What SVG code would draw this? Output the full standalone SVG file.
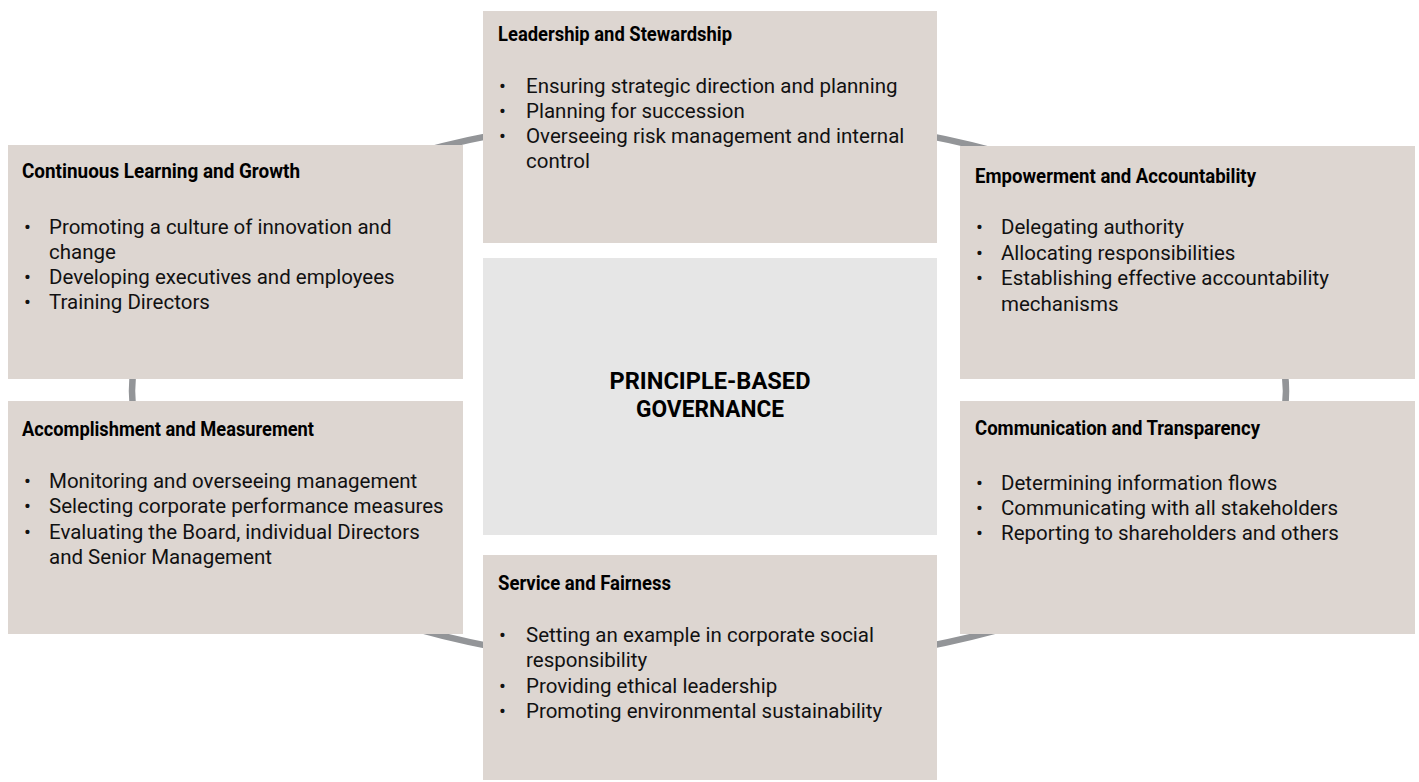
<svg xmlns="http://www.w3.org/2000/svg" width="1419" height="782" viewBox="0 0 1419 782">
<style>
.box{fill:#ddd6d1}
.core{fill:#e6e6e6}
.ring{fill:none;stroke:#939598;stroke-width:6.5}
.h{font-family:"Liberation Sans Narrow","Roboto","Liberation Sans",sans-serif;font-weight:bold;font-size:20.5px;fill:#000}
.t{font-family:"Roboto","Liberation Sans",sans-serif;font-size:20.5px;fill:#111}
.c{font-family:"Liberation Sans Narrow","Roboto","Liberation Sans",sans-serif;font-weight:bold;font-size:23px;fill:#000;text-anchor:middle}
</style>
<rect width="1419" height="782" fill="#fff"/>
<g id="connectors">
<ellipse class="ring" cx="709" cy="391" rx="577" ry="276"/>
</g>
<g id="leadership">
<rect class="box" x="483" y="11" width="454" height="232"/>
<text class="h" x="498" y="41" textLength="234" lengthAdjust="spacingAndGlyphs">Leadership and Stewardship</text>
<text class="t" x="499" y="93">•</text><text class="t" x="526" y="93">Ensuring strategic direction and planning</text>
<text class="t" x="499" y="118">•</text><text class="t" x="526" y="118">Planning for succession</text>
<text class="t" x="499" y="143">•</text><text class="t" x="526" y="143">Overseeing risk management and internal</text>
<text class="t" x="526" y="168">control</text>
</g>
<g id="center">
<rect class="core" x="483" y="258" width="454" height="277"/>
<text class="c" x="710" y="389" textLength="201" lengthAdjust="spacingAndGlyphs">PRINCIPLE-BASED</text>
<text class="c" x="710" y="417" textLength="148" lengthAdjust="spacingAndGlyphs">GOVERNANCE</text>
</g>
<g id="continuous">
<rect class="box" x="8" y="145" width="455" height="234"/>
<text class="h" x="22" y="178" textLength="278" lengthAdjust="spacingAndGlyphs">Continuous Learning and Growth</text>
<text class="t" x="24" y="234">•</text><text class="t" x="49" y="234">Promoting a culture of innovation and</text>
<text class="t" x="49" y="259">change</text>
<text class="t" x="24" y="284">•</text><text class="t" x="49" y="284">Developing executives and employees</text>
<text class="t" x="24" y="309">•</text><text class="t" x="49" y="309">Training Directors</text>
</g>
<g id="empowerment">
<rect class="box" x="960" y="146" width="455" height="233"/>
<text class="h" x="975" y="183" textLength="281" lengthAdjust="spacingAndGlyphs">Empowerment and Accountability</text>
<text class="t" x="976" y="234">•</text><text class="t" x="1001" y="234">Delegating authority</text>
<text class="t" x="976" y="260">•</text><text class="t" x="1001" y="260">Allocating responsibilities</text>
<text class="t" x="976" y="285">•</text><text class="t" x="1001" y="285">Establishing effective accountability</text>
<text class="t" x="1001" y="311">mechanisms</text>
</g>
<g id="accomplishment">
<rect class="box" x="8" y="401" width="455" height="233"/>
<text class="h" x="22" y="436" textLength="292" lengthAdjust="spacingAndGlyphs">Accomplishment and Measurement</text>
<text class="t" x="24" y="488">•</text><text class="t" x="49" y="488">Monitoring and overseeing management</text>
<text class="t" x="24" y="513">•</text><text class="t" x="49" y="513">Selecting corporate performance measures</text>
<text class="t" x="24" y="539">•</text><text class="t" x="49" y="539">Evaluating the Board, individual Directors</text>
<text class="t" x="49" y="564">and Senior Management</text>
</g>
<g id="communication">
<rect class="box" x="960" y="401" width="455" height="233"/>
<text class="h" x="975" y="435" textLength="285" lengthAdjust="spacingAndGlyphs">Communication and Transparency</text>
<text class="t" x="976" y="490">•</text><text class="t" x="1001" y="490">Determining information flows</text>
<text class="t" x="976" y="515">•</text><text class="t" x="1001" y="515">Communicating with all stakeholders</text>
<text class="t" x="976" y="540">•</text><text class="t" x="1001" y="540">Reporting to shareholders and others</text>
</g>
<g id="service">
<rect class="box" x="483" y="555" width="454" height="225"/>
<text class="h" x="498" y="590" textLength="173" lengthAdjust="spacingAndGlyphs">Service and Fairness</text>
<text class="t" x="499" y="642">•</text><text class="t" x="526" y="642">Setting an example in corporate social</text>
<text class="t" x="526" y="667">responsibility</text>
<text class="t" x="499" y="693">•</text><text class="t" x="526" y="693">Providing ethical leadership</text>
<text class="t" x="499" y="718">•</text><text class="t" x="526" y="718">Promoting environmental sustainability</text>
</g>
</svg>
